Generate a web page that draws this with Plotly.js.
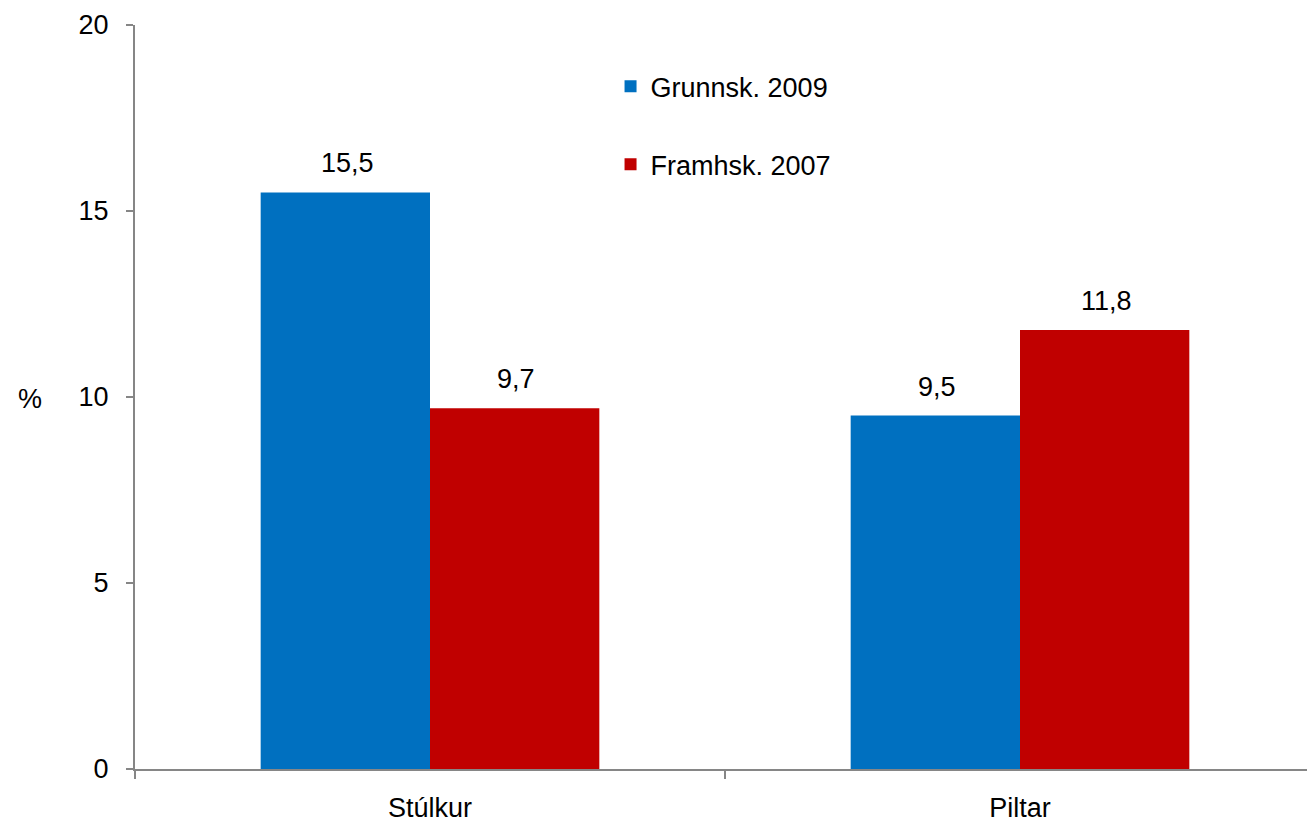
<!DOCTYPE html>
<html><head><meta charset="utf-8">
<script src="https://cdn.plot.ly/plotly-3.0.1.min.js"></script>
<style>html,body{margin:0;padding:0;overflow:hidden;background:#fff}</style>
</head><body>
<div id="chart"></div>
<script>
const categories = ["Stúlkur", "Piltar"];
const grunnsk2009 = [15.5, 9.5];
const framhsk2007 = [9.7, 11.8];
const seriesNames = ["Grunnsk. 2009", "Framhsk. 2007"];
const yTicks = [0, 5, 10, 15, 20];
const yTitle = "%";

const font = {family: "Liberation Sans, Arial, sans-serif", size: 27, color: "#000"};
const fmt = v => v.toFixed(1).replace(".", ",");

const traces = [
  {type: "bar", x: categories, y: grunnsk2009, name: seriesNames[0], legendgroup: "a",
   marker: {color: "#0070C0"}},
  {type: "bar", x: categories, y: framhsk2007, name: seriesNames[1], legendgroup: "b",
   marker: {color: "#C00000"}}
];

const annotations = [];
[grunnsk2009, framhsk2007].forEach((arr, si) => {
  arr.forEach((v, i) => {
    annotations.push({x: categories[i], y: v, xref: "x", yref: "y", text: fmt(v),
      showarrow: false, yanchor: "bottom", yshift: 12, xshift: si === 0 ? -83 : 86,
      font: font});
  });
});
annotations.push({xref: "paper", yref: "paper", x: 0, y: 0.5, xanchor: "center",
  yanchor: "middle", xshift: -105, yshift: -2, text: yTitle, showarrow: false, font: font});

const layout = {
  width: 1316, height: 823,
  margin: {l: 135, r: 1, t: 25, b: 54},
  paper_bgcolor: "#fff", plot_bgcolor: "#fff",
  font: font,
  separators: ",.",
  barmode: "group", bargap: 0.426, bargroupgap: 0,
  showlegend: true,
  legend: {x: 0.403, y: 0.95, xanchor: "left", yanchor: "top", font: font,
           traceorder: "grouped", tracegroupgap: 40, bgcolor: "rgba(0,0,0,0)"},
  xaxis: {type: "category", tickson: "boundaries", ticks: "outside", ticklen: 8,
          tickcolor: "#868686", tickwidth: 2, showline: true, linecolor: "#868686",
          linewidth: 2, showgrid: false, zeroline: false, tickfont: font,
          ticklabelstandoff: 14, range: [-0.5, 1.5]},
  yaxis: {range: [0, 20], tickvals: yTicks, ticks: "outside", ticklen: 7,
          tickcolor: "#868686", tickwidth: 2, showline: true, linecolor: "#868686",
          linewidth: 2, showgrid: false, zeroline: false, tickfont: font,
          ticklabelstandoff: 12},
  annotations: annotations
};

Plotly.newPlot("chart", traces, layout, {displayModeBar: false, staticPlot: true});
</script>
</body></html>
